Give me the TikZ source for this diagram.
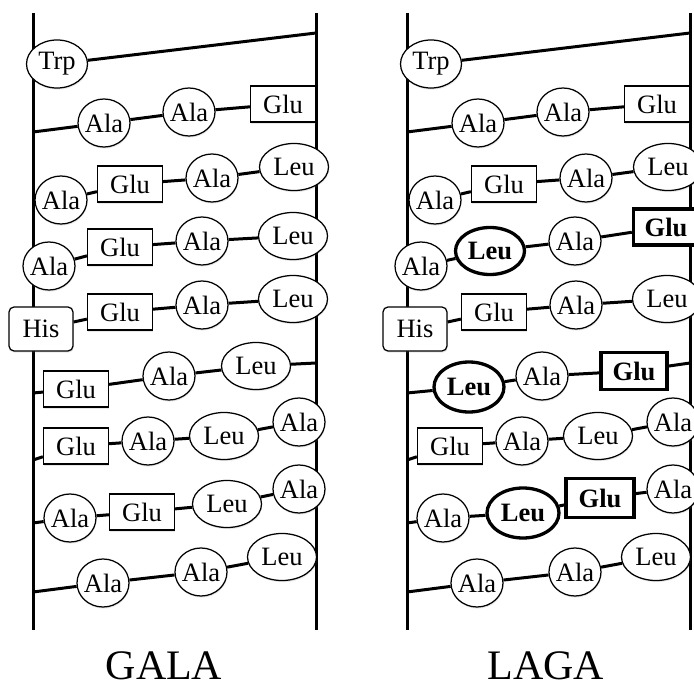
\documentclass[tikz,border=0pt]{standalone}
\usepackage{fontspec}
\setmainfont{Liberation Serif}
\usetikzlibrary{shapes.geometric,shadows}
\newcommand{\mz}[1]{\makebox[0pt]{\raisebox{-3pt}{#1}}}
\tikzset{
  base/.style={fill=white, draw, line width=1.25pt, inner sep=0pt,
    font=\fontsize{26.5}{26.5}\selectfont,
    drop shadow={opacity=0.18, shadow xshift=0.6pt, shadow yshift=-1.6pt}},
  ov/.style={base, ellipse, minimum width=52pt, minimum height=48pt},
  ovl/.style={ov, minimum width=69pt, minimum height=47pt},
  trp/.style={ov, minimum width=61pt},
  bx/.style={base, rectangle, minimum width=65pt, minimum height=36pt},
  rbx/.style={bx, rounded corners=5pt, minimum width=64pt, minimum height=44pt},
  bld/.style={line width=3.3pt, font=\fontsize{26.5}{26.5}\selectfont\bfseries},
  link/.style={line width=3pt},
  rail/.style={line width=3pt},
  ttl/.style={anchor=base, inner sep=0pt, font=\fontsize{42}{42}\selectfont}
}
\begin{document}
\begin{tikzpicture}[x=1pt,y=-1pt]
\clip (0,0) rectangle (694,687);
\fill[white] (0,0) rectangle (694,687);
% rails
\coordinate (LT) at (33,13); \coordinate (LB) at (33,630);
\coordinate (LRT) at (316,13); \coordinate (LRB) at (316,630);
\coordinate (RT) at (407,13); \coordinate (RB) at (407,630);
\coordinate (RRT) at (690,13); \coordinate (RRB) at (690,630);
\draw[rail] (LT) -- (LB); \draw[rail] (LRT) -- (LRB);
\draw[rail] (RT) -- (RB); \draw[rail] (RRT) -- (RRB);
% rail anchor points
\coordinate (L1r) at (316,33); \coordinate (L2l) at (33,132);
\coordinate (L6l) at (33,393); \coordinate (L6r) at (316,363);
\coordinate (L7l) at (33,460); \coordinate (L8l) at (33,523);
\coordinate (L9l) at (33,592);
\coordinate (R1r) at (690,33); \coordinate (R2l) at (407,132);
\coordinate (R6l) at (407,393); \coordinate (R6r) at (690,363);
\coordinate (R7l) at (407,460); \coordinate (R8l) at (407,523);
\coordinate (R9l) at (407,592);

% ---------------- GALA ----------------
\node[trp] (L1a) at (57,64) {\mz{Trp}};
\node[ov] (L2a) at (104,123) {\mz{Ala}};
\node[ov] (L2b) at (189,112) {\mz{Ala}};
\node[bx] (L2c) at (283,104) {\mz{Glu}};
\node[ov] (L3a) at (61,200) {\mz{Ala}};
\node[bx] (L3b) at (130,184) {\mz{Glu}};
\node[ov] (L3c) at (212,178) {\mz{Ala}};
\node[ovl] (L3d) at (294,167) {\mz{Leu}};
\node[ov] (L4a) at (49,266) {\mz{Ala}};
\node[bx] (L4b) at (120,247) {\mz{Glu}};
\node[ov] (L4c) at (202,241) {\mz{Ala}};
\node[ovl] (L4d) at (293,236) {\mz{Leu}};
\node[rbx] (L5a) at (41,329) {\mz{His}};
\node[bx] (L5b) at (120,312) {\mz{Glu}};
\node[ov] (L5c) at (202,305) {\mz{Ala}};
\node[ovl] (L5d) at (293,299) {\mz{Leu}};
\node[bx] (L6a) at (76,389) {\mz{Glu}};
\node[ov] (L6b) at (169,376) {\mz{Ala}};
\node[ovl] (L6c) at (256,366) {\mz{Leu}};
\node[bx] (L7a) at (76,446) {\mz{Glu}};
\node[ov] (L7b) at (148,441) {\mz{Ala}};
\node[ovl] (L7c) at (224,436) {\mz{Leu}};
\node[ov] (L7d) at (299,422) {\mz{Ala}};
\node[ov] (L8a) at (70,518) {\mz{Ala}};
\node[bx] (L8b) at (142,512) {\mz{Glu}};
\node[ovl] (L8c) at (227,504) {\mz{Leu}};
\node[ov] (L8d) at (299,489) {\mz{Ala}};
\node[ov] (L9a) at (103,583) {\mz{Ala}};
\node[ov] (L9b) at (201,572) {\mz{Ala}};
\node[ovl] (L9c) at (282,557) {\mz{Leu}};

\draw[link] (L1a) -- (L1r);
\draw[link] (L2l) -- (L2a); \draw[link] (L2a) -- (L2b); \draw[link] (L2b) -- (L2c);
\draw[link] (L3a) -- (L3b); \draw[link] (L3b) -- (L3c); \draw[link] (L3c) -- (L3d);
\draw[link] (L4a) -- (L4b); \draw[link] (L4b) -- (L4c); \draw[link] (L4c) -- (L4d);
\draw[link] (L5a) -- (L5b); \draw[link] (L5b) -- (L5c); \draw[link] (L5c) -- (L5d);
\draw[link] (L6l) -- (L6a); \draw[link] (L6a) -- (L6b); \draw[link] (L6b) -- (L6c); \draw[link] (L6c) -- (L6r);
\draw[link] (L7l) -- (L7a); \draw[link] (L7a) -- (L7b); \draw[link] (L7b) -- (L7c); \draw[link] (L7c) -- (L7d);
\draw[link] (L8l) -- (L8a); \draw[link] (L8a) -- (L8b); \draw[link] (L8b) -- (L8c); \draw[link] (L8c) -- (L8d);
\draw[link] (L9l) -- (L9a); \draw[link] (L9a) -- (L9b); \draw[link] (L9b) -- (L9c);

% ---------------- LAGA ----------------
\node[trp] (R1a) at (431,64) {\mz{Trp}};
\node[ov] (R2a) at (478,123) {\mz{Ala}};
\node[ov] (R2b) at (563,112) {\mz{Ala}};
\node[bx] (R2c) at (657,104) {\mz{Glu}};
\node[ov] (R3a) at (435,200) {\mz{Ala}};
\node[bx] (R3b) at (504,184) {\mz{Glu}};
\node[ov] (R3c) at (586,178) {\mz{Ala}};
\node[ovl] (R3d) at (668,167) {\mz{Leu}};
\node[ov] (R4a) at (421,266) {\mz{Ala}};
\node[ovl,bld] (R4b) at (490,251) {\mz{Leu}};
\node[ov] (R4c) at (575,241) {\mz{Ala}};
\node[bx,bld] (R4d) at (666,227) {\mz{Glu}};
\node[rbx] (R5a) at (415,329) {\mz{His}};
\node[bx] (R5b) at (494,312) {\mz{Glu}};
\node[ov] (R5c) at (576,305) {\mz{Ala}};
\node[ovl] (R5d) at (667,299) {\mz{Leu}};
\node[ovl,bld,minimum width=70pt,minimum height=50pt] (R6a) at (469,387) {\mz{Leu}};
\node[ov] (R6b) at (542,376) {\mz{Ala}};
\node[bx,bld,minimum width=66pt,minimum height=37pt] (R6c) at (634,371) {\mz{Glu}};
\node[bx] (R7a) at (450,446) {\mz{Glu}};
\node[ov] (R7b) at (522,441) {\mz{Ala}};
\node[ovl] (R7c) at (598,436) {\mz{Leu}};
\node[ov] (R7d) at (673,422) {\mz{Ala}};
\node[ov] (R8a) at (443,518) {\mz{Ala}};
\node[ovl,bld,minimum width=72pt,minimum height=50pt] (R8b) at (523,513) {\mz{Leu}};
\node[bx,bld,minimum width=68pt,minimum height=39pt] (R8c) at (600,498) {\mz{Glu}};
\node[ov] (R8d) at (673,489) {\mz{Ala}};
\node[ov] (R9a) at (477,583) {\mz{Ala}};
\node[ov] (R9b) at (575,572) {\mz{Ala}};
\node[ovl] (R9c) at (656,557) {\mz{Leu}};

\draw[link] (R1a) -- (R1r);
\draw[link] (R2l) -- (R2a); \draw[link] (R2a) -- (R2b); \draw[link] (R2b) -- (R2c);
\draw[link] (R3a) -- (R3b); \draw[link] (R3b) -- (R3c); \draw[link] (R3c) -- (R3d);
\draw[link] (R4a) -- (R4b); \draw[link] (R4b) -- (R4c); \draw[link] (R4c) -- (R4d);
\draw[link] (R5a) -- (R5b); \draw[link] (R5b) -- (R5c); \draw[link] (R5c) -- (R5d);
\draw[link] (R6l) -- (R6a); \draw[link] (R6a) -- (R6b); \draw[link] (R6b) -- (R6c); \draw[link] (R6c) -- (R6r);
\draw[link] (R7l) -- (R7a); \draw[link] (R7a) -- (R7b); \draw[link] (R7b) -- (R7c); \draw[link] (R7c) -- (R7d);
\draw[link] (R8l) -- (R8a); \draw[link] (R8a) -- (R8b); \draw[link] (R8b) -- (R8c); \draw[link] (R8c) -- (R8d);
\draw[link] (R9l) -- (R9a); \draw[link] (R9a) -- (R9b); \draw[link] (R9b) -- (R9c);

% titles
\node[ttl] (gala) at (164,679) {GALA};
\node[ttl] (laga) at (546,679) {LAGA};
\end{tikzpicture}
\end{document}
